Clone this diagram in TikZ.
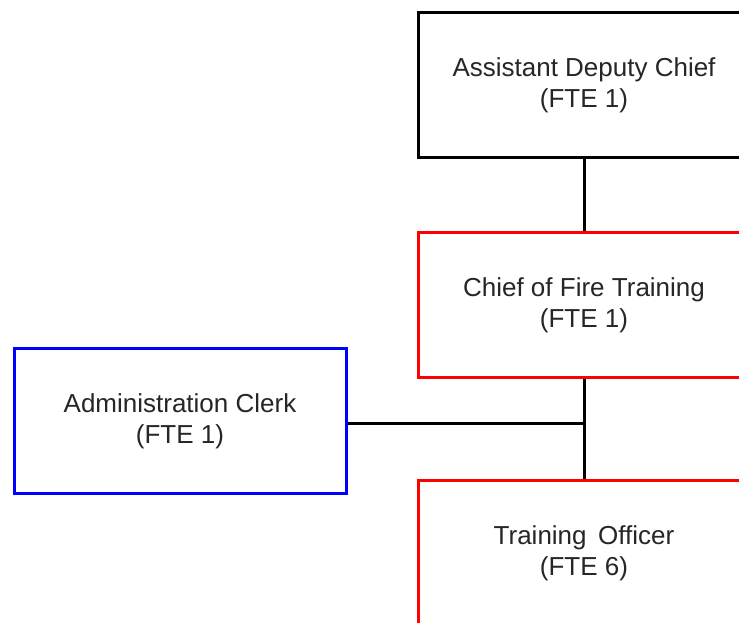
\documentclass[tikz,border=0pt]{standalone}
\usepackage{fontspec}
\setmainfont{Liberation Sans}
\begin{document}
\begin{tikzpicture}[x=1pt,y=-1pt,
    post/.style={draw, line width=3pt, fill=white, minimum width=332pt, minimum height=145pt,
      align=center, inner sep=0pt, font=\fontsize{26}{31}\selectfont, text=black!85},
    link/.style={draw=black, line width=3pt}]
        \useasboundingbox (0,0) rectangle (739,623);
        \clip (0,0) rectangle (739,623);

        % Posts
        \node[post, draw=black] (adc) at (584,85) {Assistant Deputy Chief\\(FTE 1)};
        \node[post, draw=red] (chief) at (584,305) {Chief of Fire Training\\(FTE 1)};
        \node[post, draw=blue] (clerk) at (180,421) {Administration Clerk\\(FTE 1)};
        \node[post, draw=red] (officer) at (584,553) {Training\, Officer\\(FTE 6)};

        % Reporting lines
        \draw[link] (adc.south) -- (chief.north);
        \draw[link] (chief.south) -- (officer.north);
        \draw[link] ([yshift=-2pt]clerk.east) -- ([yshift=-2pt]clerk.east -| chief.south);
\end{tikzpicture}
\end{document}
